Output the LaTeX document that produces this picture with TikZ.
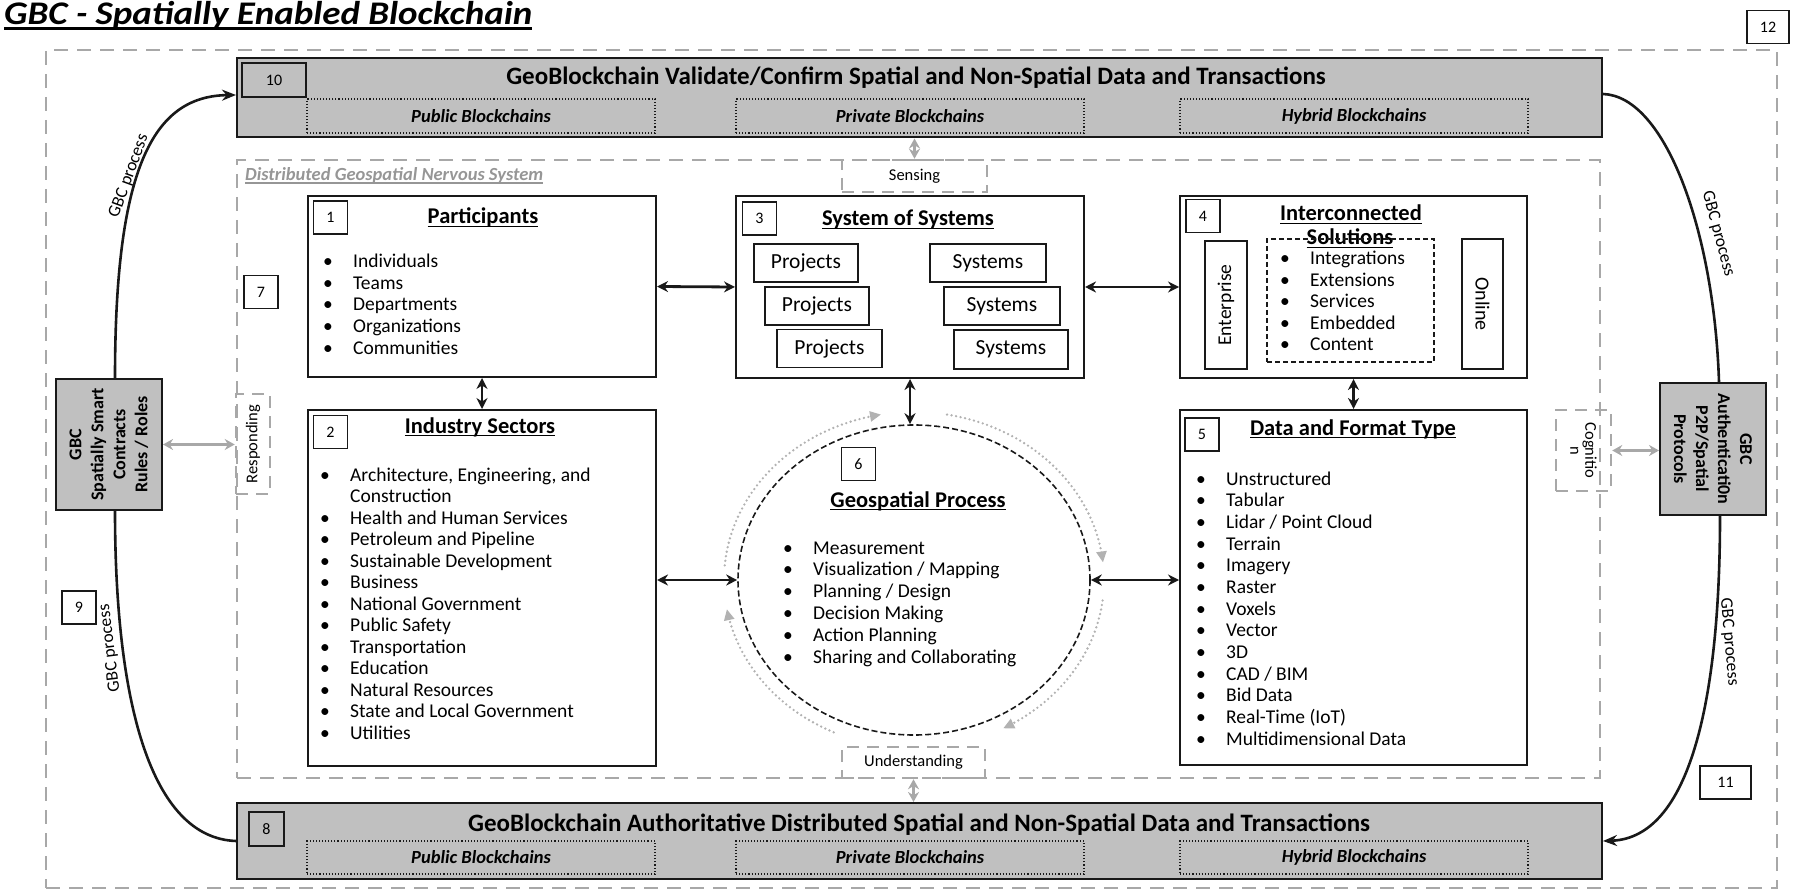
\documentclass[tikz,border=0pt]{standalone}
\usepackage{fontspec}
\setmainfont{Carlito}
\usetikzlibrary{arrows.meta,shapes.geometric}

\definecolor{barfill}{RGB}{192,192,192}
\definecolor{dashgrey}{RGB}{168,168,168}
\definecolor{labelgrey}{RGB}{150,150,150}
\definecolor{cyclegrey}{RGB}{178,178,178}
\definecolor{ink}{RGB}{25,25,25}

% bullet column of fixed width, and an underline at a fixed depth
\newcommand{\blt}{\makebox[30pt][l]{\textbullet}}
\newcommand{\ulx}[1]{\setbox0=\hbox{#1}\rlap{\rule[-0.14em]{\wd0}{0.07em}}\box0}

\begin{document}
\begin{tikzpicture}[x=1pt, y=-1pt,
  every node/.style={inner sep=0pt},
  numbox/.style={draw=ink, line width=1.4pt, minimum width=34pt, minimum height=33pt, font=\fontsize{16}{19}\selectfont},
  panel/.style={draw=ink, line width=2pt},
  barbox/.style={draw=ink, line width=2pt, fill=barfill, minimum width=1365pt},
  bartitle/.style={anchor=base, font=\fontsize{25}{29}\selectfont\bfseries},
  chainbox/.style={draw=ink, line width=1.1pt, dotted, minimum width=348pt, minimum height=34pt, font=\fontsize{18.5}{21}\selectfont\bfseries\itshape},
  zone/.style={draw=dashgrey, line width=2.5pt, dash pattern=on 14pt off 9pt},
  tagbox/.style={draw=dashgrey, line width=2.5pt, dash pattern=on 12pt off 8pt},
  tagtext/.style={font=\fontsize{16.5}{15}\selectfont, align=center},
  gbcbox/.style={draw=ink, line width=2pt, fill=barfill},
  gbctext/.style={font=\fontsize{18}{22}\selectfont\bfseries, align=center},
  heading/.style={anchor=base, font=\fontsize{22.5}{26}\selectfont\bfseries},
  entry/.style={anchor=base west, font=\fontsize{19.5}{21.5}\selectfont},
  tile/.style={draw=ink, line width=1.6pt, minimum height=38pt, font=\fontsize{21.5}{24}\selectfont},
  biarrow/.style={line width=2.8pt, draw=ink, {Stealth[length=11pt,width=11pt]}-{Stealth[length=11pt,width=11pt]}},
  greyarrow/.style={line width=3pt, draw=dashgrey, {Stealth[length=10pt,width=11pt]}-{Stealth[length=10pt,width=11pt]}},
  flow/.style={line width=2.6pt, draw=ink},
  flowlabel/.style={font=\fontsize{17.5}{20}\selectfont},
  loopdots/.style={draw=cyclegrey, line width=2.6pt, line cap=round, dash pattern=on 0pt off 4.6pt, -{Triangle[length=11pt,width=10pt,fill=cyclegrey]}},
]
\useasboundingbox (0,0) rectangle (1798,890);

% ---------- title ----------
\node[anchor=base west, font=\fontsize{33}{38}\selectfont\bfseries\itshape] (title) at (4,25) {\scalebox{1.12}[1]{\ulx{GBC - Spatially Enabled Blockchain}}};
\node[numbox, minimum width=42pt] (n12) at (1768,27) {12};

% ---------- dashed zones ----------
\node[zone, minimum width=1731pt, minimum height=838pt] (outer) at (911.5,469) {};
\node[zone, minimum width=1363pt, minimum height=618pt] (inner) at (918.5,469) {};
\node[anchor=base west, font=\fontsize{18.5}{21}\selectfont\bfseries\itshape, text=labelgrey] (nervous) at (245,181) {\ulx{Distributed Geospatial Nervous System}};

% ---------- blockchain bars ----------
\node[barbox, minimum height=79pt] (topbar) at (919.5,98) {};
\node[numbox, minimum width=64pt, minimum height=34pt] (n10) at (274,80) {10};
\node[bartitle] (toptitle) at (916,85) {GeoBlockchain Validate/Confirm Spatial and Non-Spatial Data and Transactions};
\node[chainbox] (tpub) at (481,116) {Public Blockchains};
\node[chainbox] (tpriv) at (910,116) {Private Blockchains};
\node[chainbox] (thyb) at (1354,116) {Hybrid Blockchains};

\node[barbox, minimum height=76pt] (botbar) at (919.5,841) {};
\node[numbox, minimum width=35pt, minimum height=34pt] (n8) at (266.5,829) {8};
\node[bartitle] (bottitle) at (919,831) {GeoBlockchain Authoritative Distributed Spatial and Non-Spatial Data and Transactions};
\node[chainbox, minimum height=33pt] (bpub) at (481,857.5) {Public Blockchains};
\node[chainbox, minimum height=33pt] (bpriv) at (910,857.5) {Private Blockchains};
\node[chainbox, minimum height=33pt] (bhyb) at (1354,857.5) {Hybrid Blockchains};

% ---------- sensing / understanding / responding / cognition ----------
\node[tagbox, minimum width=145pt, minimum height=32pt] (sense) at (914.5,176) {};
\node[tagtext] (senset) at (914.5,176) {Sensing};
\node[tagbox, minimum width=143pt, minimum height=31pt] (under) at (913.5,762.5) {};
\node[tagtext] (undert) at (913.5,762.5) {Understanding};
\node[tagbox, minimum width=34pt, minimum height=100pt] (resp) at (253,444) {};
\node[tagtext, rotate=90] (respt) at (253,444) {Responding};
\node[tagbox, minimum width=55pt, minimum height=81pt] (cogn) at (1583.5,450.5) {};
\node[tagtext, rotate=-90] (cognt) at (1583.5,450.5) {Cognitio\\n};

% ---------- GBC side boxes ----------
\node[gbcbox, minimum width=106pt, minimum height=131pt] (gbcL) at (109,444.5) {};
\node[gbctext, rotate=90] (gbcLt) at (109,444.5) {GBC\\Spatially Smart\\Contracts\\Rules / Roles};
\node[gbcbox, minimum width=106pt, minimum height=132pt] (gbcR) at (1713,449) {};
\node[gbctext, rotate=-90] (gbcRt) at (1713,449) {GBC\\Authenticati0n\\P2P/Spatial\\Protocols};

\node[numbox] (n7) at (261,292) {7};
\node[numbox] (n9) at (79,607.5) {9};
\node[numbox, minimum width=51pt] (n11) at (1725.5,782.5) {11};

% ---------- GBC process loop ----------
\draw[flow, -{Stealth[length=14pt,width=11pt]}] ([xshift=6pt]gbcL.north) .. controls (115,170) and (152,96) .. ([yshift=3pt]topbar.west);
\draw[flow] ([xshift=6pt]gbcL.south) .. controls (115,700) and (150,838) .. (botbar.west);
\draw[flow] ([yshift=4pt]topbar.east) .. controls (1665,96) and (1714,230) .. ([xshift=6pt]gbcR.north);
\draw[flow, -{Stealth[length=14pt,width=11pt]}] ([xshift=7pt]gbcR.south) .. controls (1720,700) and (1690,838) .. (botbar.east);
\node[flowlabel, rotate=70] (lblUL) at (129,176) {GBC process};
\node[flowlabel, rotate=97] (lblLL) at (110,648) {GBC process};
\node[flowlabel, rotate=-75] (lblUR) at (1718,234) {GBC process};
\node[flowlabel, rotate=-85] (lblLR) at (1729,642) {GBC process};

% ---------- panel 1: participants ----------
\node[panel, minimum width=348pt, minimum height=181pt] (p1) at (482,286.5) {};
\node[numbox] (n1) at (330.5,217.5) {1};
\node[heading] (h1) at (483,224) {\ulx{Participants}};
\foreach \t [count=\i from 0] in {Individuals,Teams,Departments,Organizations,Communities}
  \node[entry] (pa\i) at (323,{268+21.5*\i}) {\blt\t};

% ---------- panel 2: industry sectors ----------
\node[panel, minimum width=348pt, minimum height=356pt] (p2) at (482,588) {};
\node[numbox] (n2) at (330.5,432) {2};
\node[heading] (h2) at (480,433) {\ulx{Industry Sectors}};
\node[entry] (in0) at (320,481) {\blt Architecture, Engineering, and};
\node[entry] (in1) at (320,502.5) {\hspace*{30pt}Construction};
\foreach \t [count=\i from 2] in {Health and Human Services,Petroleum and Pipeline,Sustainable Development,Business,National Government,Public Safety,Transportation,Education,Natural Resources,State and Local Government,Utilities}
  \node[entry] (in\i) at (320,{481+21.5*\i}) {\blt\t};

% ---------- panel 3: system of systems ----------
\node[panel, minimum width=348pt, minimum height=182pt] (p3) at (910,287) {};
\node[numbox] (n3) at (759.5,218.5) {3};
\node[heading] (h3) at (908,226) {\ulx{System of Systems}};
\node[tile, minimum width=104pt] (pr1) at (806,263) {Projects};
\node[tile, minimum width=104pt] (pr2) at (817,306) {Projects};
\node[tile, minimum width=105pt] (pr3) at (829.5,348.5) {Projects};
\node[tile, minimum width=116pt] (sy1) at (988,263) {Systems};
\node[tile, minimum width=116pt] (sy2) at (1002,306) {Systems};
\node[tile, minimum width=114pt, minimum height=39pt] (sy3) at (1011,349.5) {Systems};

% ---------- panel 4: interconnected solutions ----------
\node[panel, minimum width=347pt, minimum height=182pt] (p4) at (1353.5,287) {};
\node[numbox] (n4) at (1203,216) {4};
\node[heading] (h4a) at (1351,221) {\ulx{Interconnected}};
\node[heading] (h4b) at (1350,245) {\ulx{Solutions}};
\node[draw=ink, line width=1.6pt, minimum width=42pt, minimum height=128pt] (ent) at (1226,305) {};
\node[rotate=90, font=\fontsize{19.5}{22}\selectfont] (entt) at (1226,305) {Enterprise};
\node[draw=ink, line width=1.6pt, minimum width=41pt, minimum height=130pt] (onl) at (1482.5,304) {};
\node[rotate=-90, font=\fontsize{20}{22}\selectfont] (onlt) at (1482.5,304) {Online};
\node[draw=ink, line width=1.5pt, dash pattern=on 5pt off 3pt, minimum width=167pt, minimum height=123pt] (opts) at (1350.5,300.5) {};
\foreach \t [count=\i from 0] in {Integrations,Extensions,Services,Embedded,Content}
  \node[entry] (so\i) at (1280,{265+21.5*\i}) {\blt\t};

% ---------- panel 5: data and format type ----------
\node[panel, minimum width=347pt, minimum height=355pt] (p5) at (1353.5,587.5) {};
\node[numbox] (n5) at (1202,434.5) {5};
\node[heading] (h5) at (1353,435) {\ulx{Data and Format Type}};
\foreach \t [count=\i from 0] in {Unstructured,Tabular,Lidar / Point Cloud,Terrain,Imagery,Raster,Voxels,Vector,3D,CAD / BIM,Bid Data,Real-Time (IoT),Multidimensional Data}
  \node[entry] (df\i) at (1196,{485+21.67*\i}) {\blt\t};

% ---------- geospatial process ----------
\node[ellipse, draw=ink, line width=1.6pt, dash pattern=on 6pt off 3pt, minimum width=352pt, minimum height=310pt] (geo) at (914,580) {};
\node[numbox] (n6) at (858.5,464) {6};
\node[heading] (h6) at (918,507) {\ulx{Geospatial Process}};
\foreach \t [count=\i from 0] in {Measurement,Visualization / Mapping,Planning / Design,Decision Making,Action Planning,Sharing and Collaborating}
  \node[entry] (gp\i) at (783,{554+21.8*\i}) {\blt\t};

% clockwise cycle around the process
\draw[loopdots] plot[domain=175:100, samples=40] ({914+190*cos(\x)},{580-168*sin(\x)});
\draw[loopdots] plot[domain=80:6, samples=40] ({914+190*cos(\x)},{580-168*sin(\x)});
\draw[loopdots] plot[domain=-7:-62, samples=40] ({914+190*cos(\x)},{580-168*sin(\x)});
\draw[loopdots] plot[domain=245:190, samples=40] ({914+190*cos(\x)},{580-168*sin(\x)});

% ---------- connectors between panels ----------
\draw[biarrow] (p1.east) -- (p3.west);
\draw[biarrow] (p3.east) -- (p4.west);
\draw[biarrow] (p1.south) -- (p2.north);
\draw[biarrow] (p4.south) -- (p5.north);
\draw[biarrow] (p3.south) -- (p3.south |- geo.north);
\draw[biarrow] (p2.east |- geo.west) -- (geo.west);
\draw[biarrow] (geo.east) -- (geo.east -| p5.west);

% ---------- grey links to the outer layer ----------
\draw[greyarrow] (topbar.south -| sense.north) -- (sense.north);
\draw[greyarrow] (under.south) -- (under.south |- botbar.north);
\draw[greyarrow] (gbcL.east) -- (resp.west |- gbcL.east);
\draw[greyarrow] (cogn.east) -- (cogn.east -| gbcR.west);
\end{tikzpicture}
\end{document}
